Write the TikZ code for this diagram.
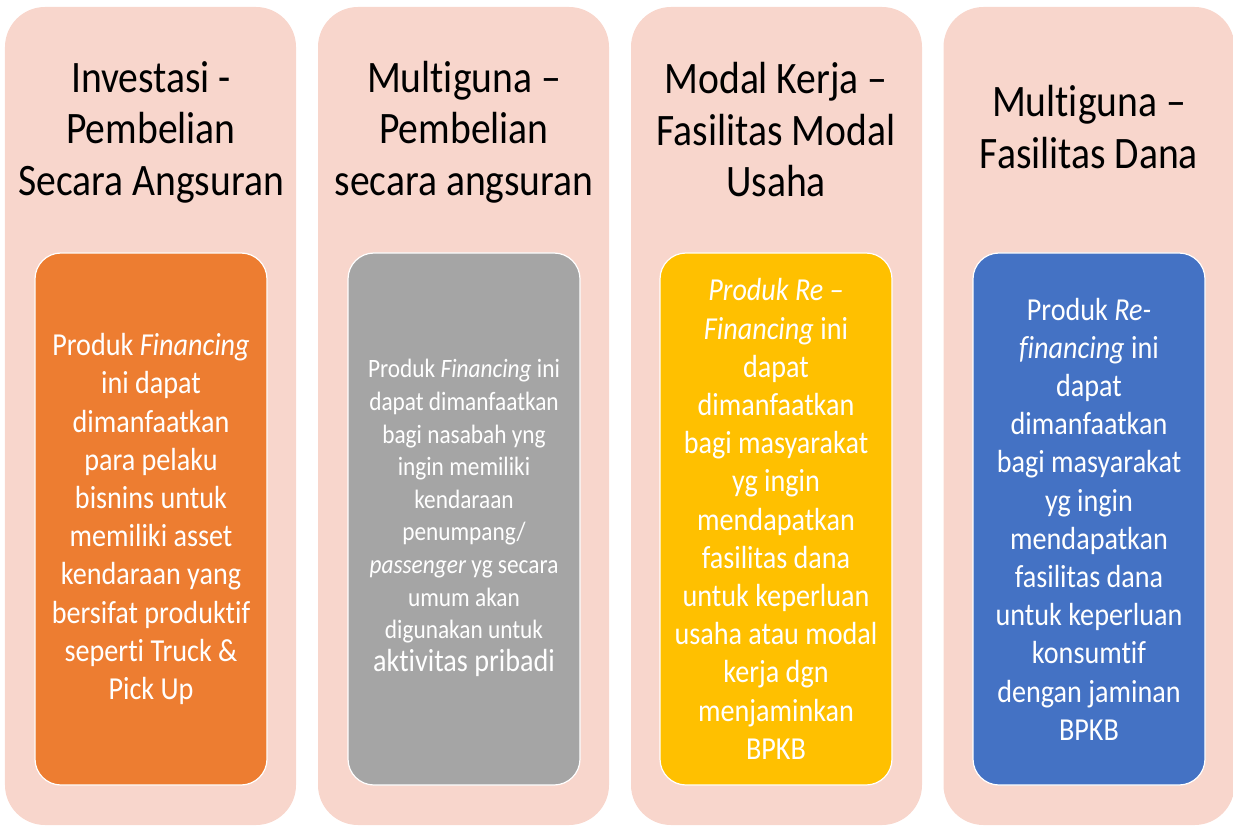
\documentclass[tikz,border=0pt]{standalone}
\usepackage{fontspec}
\setmainfont{Carlito}[FakeStretch=0.88, Ligatures={NoCommon}]
\definecolor{pinkbg}{HTML}{F8D6CC}
\definecolor{c1}{HTML}{ED7D31}
\definecolor{c2}{HTML}{A5A5A5}
\definecolor{c3}{HTML}{FFC000}
\definecolor{c4}{HTML}{4472C4}
\tikzset{
  outerbox/.style={fill=pinkbg, draw=none, rounded corners=40bp, minimum width=291bp, minimum height=818bp, inner sep=0pt},
  innerbox/.style={draw=white, line width=1.2bp, rounded corners=26bp, minimum width=232bp, minimum height=532bp, inner sep=0pt},
  titletext/.style={align=center, text=black, font=\fontsize{45bp}{51.5bp}\selectfont},
  bodytext/.style={align=center, text=white, font=\fontsize{32bp}{38.2bp}\selectfont},
  smalltext/.style={align=center, text=white, font=\fontsize{26.5bp}{32.6bp}\selectfont}
}
\begin{document}
\begin{tikzpicture}[x=1bp,y=-1bp]
\useasboundingbox (0,0) rectangle (1233,826);
% outer columns
\node[outerbox] (o1) at (150.5,416) {};
\node[outerbox] (o2) at (463.5,416) {};
\node[outerbox] (o3) at (776.5,416) {};
\node[outerbox] (o4) at (1089,416) {};
% titles
\node[titletext] (t1) at (151,132) {Investasi -\\Pembelian\\Secara Angsuran};
\node[titletext] (t2) at (464,132) {Multiguna –\\Pembelian\\secara angsuran};
\node[titletext] (t3) at (776,130) {Modal Kerja –\\Fasilitas Modal\\Usaha};
\node[titletext] (t4) at (1089,127) {Multiguna –\\Fasilitas Dana};
% inner boxes
\node[innerbox, fill=c1] (b1) at (151,519) {};
\node[innerbox, fill=c2] (b2) at (464,519) {};
\node[innerbox, fill=c3] (b3) at (776,519) {};
\node[innerbox, fill=c4] (b4) at (1089,519) {};
% inner texts
\node[bodytext] (x1) at (b1) {Produk \textit{Financing}\\ini dapat\\dimanfaatkan\\para pelaku\\bisnins untuk\\memiliki asset\\kendaraan yang\\bersifat produktif\\seperti Truck \&\\Pick Up};
\node[smalltext] (x2) at (464,518) {Produk \textit{Financing} ini\\dapat dimanfaatkan\\bagi nasabah yng\\ingin memiliki\\kendaraan\\penumpang/\\\textit{passenger} yg secara\\umum akan\\digunakan untuk\\{\fontsize{32bp}{35bp}\selectfont aktivitas pribadi}};
\node[bodytext] (x3) at (b3) {\textit{Produk Re –}\\\textit{Financing} ini\\dapat\\dimanfaatkan\\bagi masyarakat\\yg ingin\\mendapatkan\\fasilitas dana\\untuk keperluan\\usaha atau modal\\kerja dgn\\menjaminkan\\BPKB};
\node[bodytext] (x4) at (b4) {Produk \textit{Re-}\\\textit{financing} ini\\dapat\\dimanfaatkan\\bagi masyarakat\\yg ingin\\mendapatkan\\fasilitas dana\\untuk keperluan\\konsumtif\\dengan jaminan\\BPKB};
\end{tikzpicture}
\end{document}
